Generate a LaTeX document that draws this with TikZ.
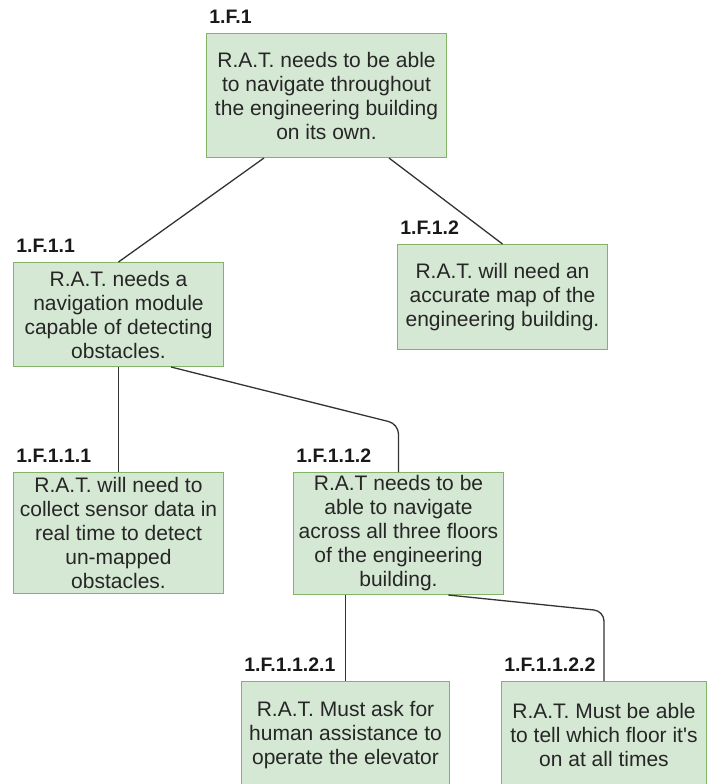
\documentclass[tikz,border=0pt]{standalone}
\usepackage{fontspec}
\setmainfont{Liberation Sans}
\usetikzlibrary{positioning}
\definecolor{reqfill}{HTML}{D5E8D4}
\definecolor{reqline}{HTML}{82B366}
\definecolor{wire}{HTML}{333333}
\tikzset{%
   % requirement box: green fill, centred lines of text
   req/.style={
      draw=reqline,
      fill=reqfill,
      line width=0.5pt,
      anchor=north west,
      align=center,
      inner sep=0pt,
      text=black!85,
      font=\fontsize{10.5}{12}\selectfont
   },
   % requirement number above the box
   tag/.style={
      inner sep=0pt,
      text=black!90,
      font=\bfseries\fontsize{9.75}{12}\selectfont
   },
   link/.style={
      draw=wire,
      line width=0.65pt
   },
}

\begin{document}
\begin{tikzpicture}[x=0.5pt, y=-0.5pt]
   \useasboundingbox (0,0) rectangle (709,784);
   \node[req, minimum width=120pt, minimum height=62pt] (f1) at (206,33)
      {R.A.T. needs to be able\\to navigate throughout\\the engineering building\\on its own.};
   \node[req, minimum width=105pt, minimum height=52pt] (f11) at (13,262)
      {R.A.T. needs a\\navigation module\\capable of detecting\\obstacles.};
   \node[req, minimum width=105pt, minimum height=52.5pt] (f12) at (397,244)
      {R.A.T. will need an\\accurate map of the\\engineering building.};
   \node[req, minimum width=105pt, minimum height=60.5pt] (f111) at (13,472)
      {R.A.T. will need to\\collect sensor data in\\real time to detect\\un-mapped\\obstacles.};
   \node[req, minimum width=105pt, minimum height=61pt] (f112) at (293,472)
      {R.A.T needs to be\\able to navigate\\across all three floors\\of the engineering\\building.};
   \node[req, minimum width=104pt, minimum height=54pt] (f1121) at (241,681)
      {R.A.T. Must ask for\\human assistance to\\operate the elevator};
   \node[req, minimum width=102.5pt, minimum height=53pt] (f1122) at (501,681)
      {R.A.T. Must be able\\to tell which floor it\textquotesingle s\\on at all times};

   \node[tag, above right=4.5pt and 1.5pt of f1.north west] (t1) {1.F.1};
   \node[tag, above right=4.5pt and 1.5pt of f11.north west] (t11) {1.F.1.1};
   \node[tag, above right=4.5pt and 1.5pt of f12.north west] (t12) {1.F.1.2};
   \node[tag, above right=4.5pt and 1.5pt of f111.north west] (t111) {1.F.1.1.1};
   \node[tag, above right=4.5pt and 1.5pt of f112.north west] (t112) {1.F.1.1.2};
   \node[tag, above right=4.5pt and 1.5pt of f1121.north west] (t1121) {1.F.1.1.2.1};
   \node[tag, above right=4.5pt and 1.5pt of f1122.north west] (t1122) {1.F.1.1.2.2};

   \draw[link] (f1.225) -- (f11.north);
   \draw[link] (f1.315) -- (f12.north);
   \draw[link] (f11.south) -- (f111.north);
   \coordinate (c1) at (f112.north |- 0,424);
   \draw[link, rounded corners=5pt] (f11.315) -- (c1) -- (f112.north);
   \draw[link] (f1121.north |- f112.south) -- (f1121.north);
   \coordinate (c2) at (f1122.north |- 0,611);
   \draw[link, rounded corners=5pt] (f112.309) -- (c2) -- (f1122.north);
\end{tikzpicture}
\end{document}
